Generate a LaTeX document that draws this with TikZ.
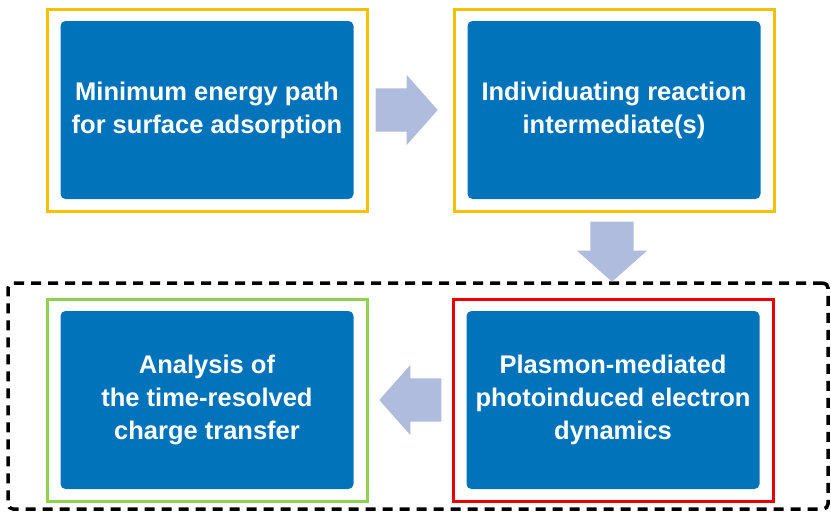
\documentclass[tikz,border=0pt]{standalone}
\usepackage{fontspec}
\setmainfont{Liberation Sans}
\usepackage{tikz}
\usetikzlibrary{positioning}
\usetikzlibrary{shapes.arrows}
\definecolor{boxblue}{RGB}{0,115,187}
\definecolor{frameyellow}{RGB}{247,193,0}
\definecolor{framegreen}{RGB}{146,208,80}
\definecolor{framered}{RGB}{235,0,0}
\definecolor{arrowblue}{RGB}{176,188,222}
\tikzstyle{frame} = [draw, rectangle, line width=3pt, minimum width=320pt, minimum height=202pt]
\tikzstyle{task} = [rectangle, fill=boxblue, rounded corners=5pt, minimum width=293pt, minimum height=178pt, text=white, align=center, font=\bfseries\fontsize{25.5}{33}\selectfont]
\tikzstyle{flow} = [single arrow, fill=arrowblue, inner xsep=0pt, inner ysep=21.5pt, minimum height=62pt, minimum width=70pt, single arrow head extend=13.5pt, single arrow tip angle=97]
\tikzstyle{flowdown} = [flow, inner xsep=21.5pt, inner ysep=0pt, minimum height=60pt, shape border rotate=270]
\tikzstyle{group} = [draw, rectangle, line width=3.5pt, rounded corners=5pt, dash pattern=on 10pt off 7pt, minimum width=820pt, minimum height=226pt]

\begin{document}
\begin{tikzpicture}[x=1pt,y=1pt]
    \useasboundingbox (0,0) rectangle (831,-515);
    \node [group] (group) at (418,-396) {};

    \node [frame, draw=frameyellow] (f1) at (207,-110) {};
    \node [task] (t1) at (f1) {Minimum energy path\\for surface adsorption};
    \node [frame, draw=frameyellow] (f2) at (614,-110) {};
    \node [task] (t2) at (f2) {Individuating reaction\\intermediate(s)};
    \node [frame, draw=framered] (f4) at (613,-400) {};
    \node [task] (t4) at (f4) {Plasmon-mediated\\photoinduced electron\\dynamics};
    \node [frame, draw=framegreen] (f3) at (207,-400) {};
    \node [task] (t3) at (f3) {Analysis of\\the time-resolved\\charge transfer};

    \node [flow, anchor=tail] (a1) at ([xshift=7pt]f1.east) {};
    \node [flowdown, anchor=tail] (a2) at ([xshift=-2pt,yshift=-9pt]f2.south) {};
    \node [flow, anchor=tail, shape border rotate=180] (a3) at ([xshift=-10pt]f4.west) {};
\end{tikzpicture}
\end{document}
